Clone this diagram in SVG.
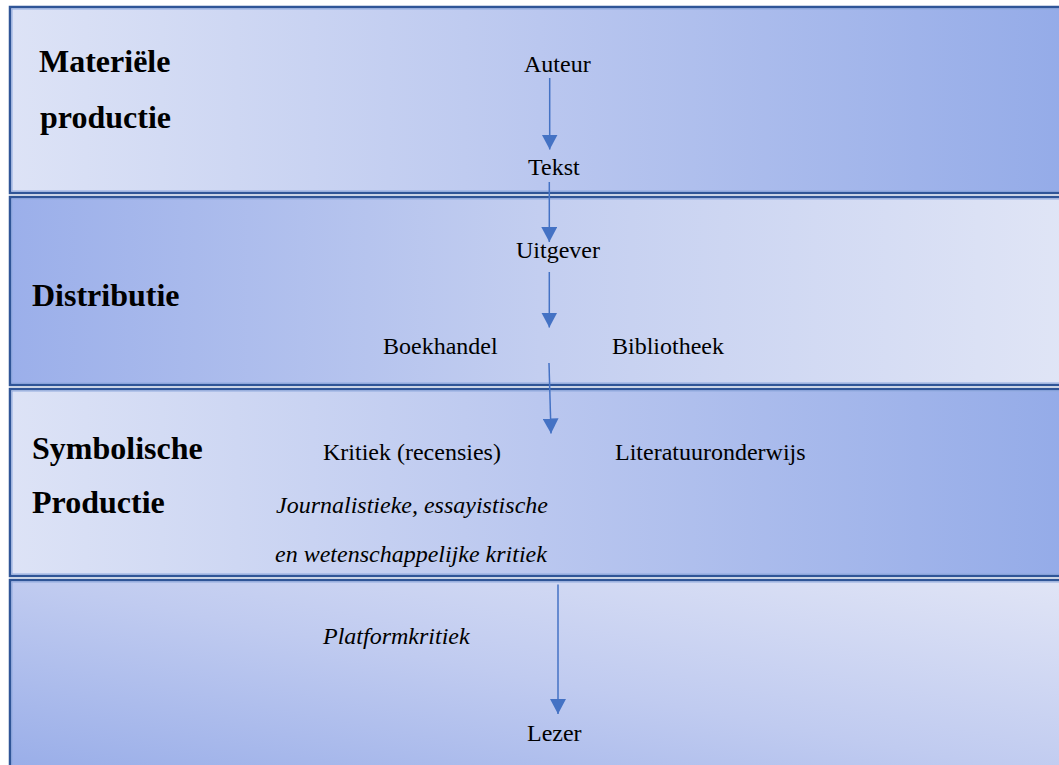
<svg xmlns="http://www.w3.org/2000/svg" width="1059" height="765" viewBox="0 0 1059 765">
<style>
.band{stroke:#2F5597;stroke-width:2.5}
.inner{fill:none;stroke:#8FA9DE;stroke-width:1}
text{font-family:'Liberation Serif','Times New Roman',Tinos,'DejaVu Serif',serif;fill:#000}
.lbl{font-size:32px;font-weight:bold}
.t{font-size:24px}
.i{font-style:italic}
.conn{stroke:#4472C4;stroke-width:1.5;fill:none;marker-end:url(#ah)}
</style>
<defs>
<linearGradient id="g1" x1="0" y1="0" x2="1" y2="0">
<stop offset="0" stop-color="#DDE3F6"/>
<stop offset="0.5" stop-color="#BAC7EF"/>
<stop offset="1" stop-color="#94ABE8"/>
</linearGradient>
<linearGradient id="g2" x1="0" y1="0" x2="1" y2="0">
<stop offset="0" stop-color="#9BAFEA"/>
<stop offset="0.5" stop-color="#C3CEF0"/>
<stop offset="1" stop-color="#E0E5F6"/>
</linearGradient>
<linearGradient id="g4" x1="0" y1="1" x2="1" y2="0">
<stop offset="0" stop-color="#97ACE8"/>
<stop offset="0.5" stop-color="#C0CBF0"/>
<stop offset="1" stop-color="#E1E5F6"/>
</linearGradient>
<marker id="ah" viewBox="0 0 15 16" refX="15" refY="8" markerWidth="15" markerHeight="16" markerUnits="userSpaceOnUse" orient="auto">
<path d="M0,0 L15,8 L0,16 Z" fill="#4472C4"/>
</marker>
</defs>

<g id="band-materiele">
<rect class="band" x="10" y="7" width="1060" height="186" fill="url(#g1)"/>
<rect class="inner" x="12" y="9" width="1060" height="182"/>
<text class="lbl" x="39" y="72" font-family="Liberation Serif, serif">Materiële</text>
<text class="lbl" x="40" y="128" font-family="Liberation Serif, serif">productie</text>
</g>
<g id="band-distributie">
<rect class="band" x="10" y="197" width="1060" height="188" fill="url(#g2)"/>
<rect class="inner" x="12" y="199" width="1060" height="184"/>
<text class="lbl" x="32" y="306">Distributie</text>
</g>
<g id="band-symbolisch">
<rect class="band" x="10" y="389" width="1060" height="187" fill="url(#g1)"/>
<rect class="inner" x="12" y="391" width="1060" height="183"/>
<text class="lbl" x="32" y="459">Symbolische</text>
<text class="lbl" x="32" y="513">Productie</text>
</g>
<g id="band-lezer">
<rect class="band" x="10" y="580" width="1060" height="200" fill="url(#g4)"/>
<rect class="inner" x="12" y="582" width="1060" height="196"/>
</g>

<g id="node-auteur"><text class="t" x="524" y="72">Auteur</text></g>
<g id="node-tekst"><text class="t" x="528" y="175">Tekst</text></g>
<g id="node-uitgever"><text class="t" x="516" y="258">Uitgever</text></g>
<g id="node-boekhandel"><text class="t" x="383" y="354">Boekhandel</text></g>
<g id="node-bibliotheek"><text class="t" x="612" y="354">Bibliotheek</text></g>
<g id="node-kritiek"><text class="t" x="323" y="460">Kritiek (recensies)</text></g>
<g id="node-literatuuronderwijs"><text class="t" x="615" y="460">Literatuuronderwijs</text></g>
<g id="node-journalistieke">
<text class="t i" x="276" y="513">Journalistieke, essayistische</text>
<text class="t i" x="275" y="562">en wetenschappelijke kritiek</text>
</g>
<g id="node-platformkritiek"><text class="t i" x="323" y="644">Platformkritiek</text></g>
<g id="node-lezer"><text class="t" x="527" y="741">Lezer</text></g>

<g id="connectors">
<line class="conn" x1="549.7" y1="78" x2="549.7" y2="149.5"/>
<line class="conn" x1="549.3" y1="182" x2="549.3" y2="242"/>
<line class="conn" x1="549.3" y1="272" x2="549.3" y2="327.5"/>
<line class="conn" x1="549" y1="363" x2="551" y2="433.5"/>
<line class="conn" x1="558" y1="584.5" x2="558" y2="714"/>
</g>
</svg>
